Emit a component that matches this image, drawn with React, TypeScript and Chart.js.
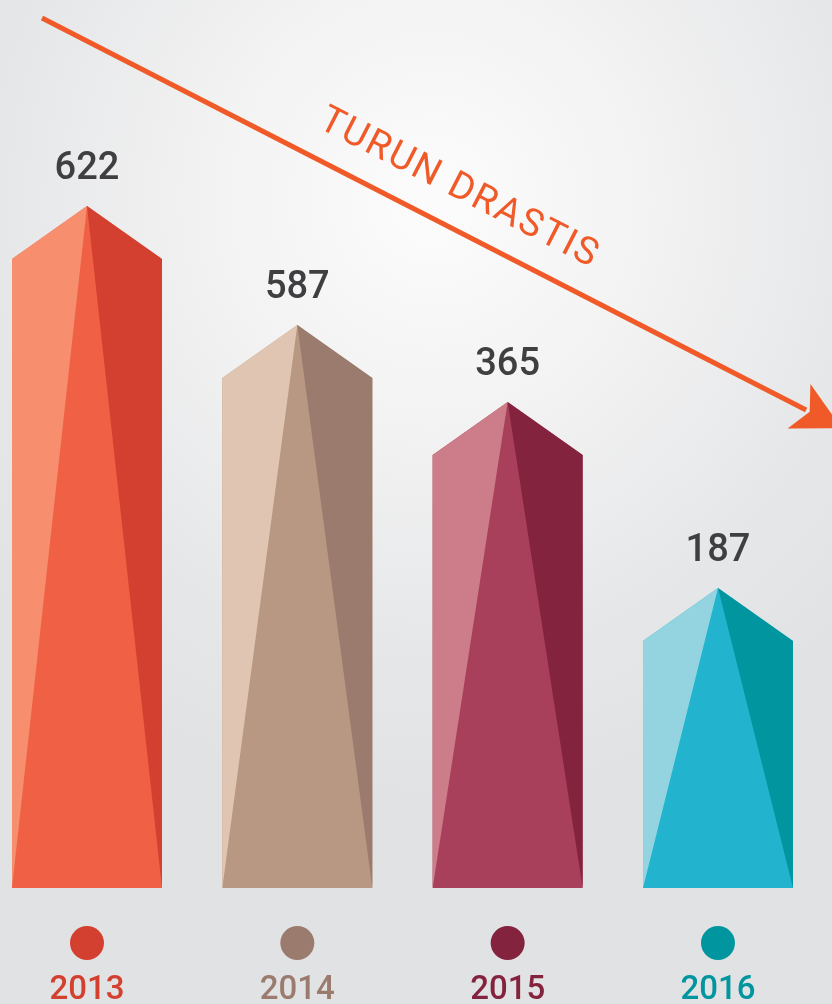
import { useEffect, useRef } from "react";
import { Chart, registerables } from "chart.js";

Chart.register(...registerables);

// ---- data ----
const years = ["2013", "2014", "2015", "2016"];
const values = [622, 587, 365, 187];
// pictorial bar heights (to the peak) as drawn in the infographic
const barHeights = [682, 563, 486, 300];
const lightColors = ["#F78E6E", "#E0C6B2", "#CD7D89", "#93D4E0"];
const midColors = ["#EF6045", "#B89882", "#A8405B", "#22B3CF"];
const darkColors = ["#D44030", "#9A7B6E", "#84233E", "#00959F"];
const trendLabel = "TURUN DRASTIS";

function poly(ctx: CanvasRenderingContext2D, pts: number[][], color: string) {
  ctx.beginPath();
  ctx.moveTo(pts[0][0], pts[0][1]);
  for (let k = 1; k < pts.length; k++) ctx.lineTo(pts[k][0], pts[k][1]);
  ctx.closePath();
  ctx.fillStyle = color;
  ctx.fill();
}

const prismPlugin = {
  id: "prism",
  afterDatasetsDraw(chart: any) {
    const ctx: CanvasRenderingContext2D = chart.ctx;
    const meta = chart.getDatasetMeta(0);
    const shoulder = 53;
    meta.data.forEach((el: any, i: number) => {
      const { x, y, base, width } = el.getProps(["x", "y", "base", "width"], true);
      const L = x - width / 2;
      const R = x + width / 2;
      const sh = y + shoulder;
      ctx.save();
      poly(ctx, [[x, y], [R, sh], [R, base], [L, base], [L, sh]], midColors[i]);
      poly(ctx, [[x, y], [L, sh], [L, base]], lightColors[i]);
      poly(ctx, [[x, y], [R, sh], [R, base]], darkColors[i]);

      ctx.textAlign = "center";
      ctx.textBaseline = "alphabetic";
      ctx.fillStyle = "#3F3F41";
      ctx.font = "500 38px Roboto";
      ctx.fillText(String(values[i]), x, y - 27);

      ctx.beginPath();
      ctx.arc(x, base + 55, 17, 0, Math.PI * 2);
      ctx.fillStyle = darkColors[i];
      ctx.fill();

      ctx.fillStyle = darkColors[i];
      ctx.font = "500 33px Roboto";
      ctx.fillText(years[i], x, base + 111);
      ctx.restore();
    });
  },
  afterDraw(chart: any) {
    const ctx: CanvasRenderingContext2D = chart.ctx;
    const orange = "#F05A28";
    const x0 = 42, y0 = 18;
    const ang = Math.atan(0.513);
    const c = Math.cos(ang), s = Math.sin(ang);
    const mx = 799, my = y0 + (799 - x0) * 0.513;
    ctx.save();
    ctx.strokeStyle = orange;
    ctx.lineWidth = 5;
    ctx.beginPath();
    ctx.moveTo(x0, y0);
    ctx.lineTo(mx + 8 * c, my + 8 * s);
    ctx.stroke();
    // arrow head
    const half = 25, len = 48, notch = 12;
    const tip = [mx + len * c, my + len * s];
    const w1 = [mx + half * s, my - half * c];
    const w2 = [mx - half * s, my + half * c];
    const nt = [mx + notch * c, my + notch * s];
    poly(ctx, [w1, tip, w2, nt], orange);

    ctx.translate(459, 189);
    ctx.rotate(ang);
    ctx.fillStyle = orange;
    ctx.font = "400 38px Roboto";
    (ctx as any).letterSpacing = "2px";
    ctx.textAlign = "center";
    ctx.textBaseline = "middle";
    ctx.fillText(trendLabel, 0, 0);
    ctx.restore();
  },
};

export default function App() {
  const ref = useRef<HTMLCanvasElement | null>(null);
  useEffect(() => {
    if (!ref.current) return;
    const chart = new Chart(ref.current, {
      type: "bar",
      data: {
        datasets: [
          {
            data: barHeights.map((h, i) => ({ x: i, y: h })),
            backgroundColor: "rgba(0,0,0,0)",
            borderWidth: 0,
            barThickness: 150,
          },
        ],
      },
      options: {
        responsive: false,
        animation: false,
        layout: { padding: { top: 88, bottom: 116, left: 0, right: 0 } },
        scales: {
          x: { type: "linear", min: -0.4136, max: 3.5421, display: false, offset: false },
          y: { min: 0, max: 800, display: false },
        },
        plugins: { legend: { display: false }, tooltip: { enabled: false } },
      },
      plugins: [prismPlugin],
    } as any);
    return () => chart.destroy();
  }, []);
  return (
    <div
      style={{
        position: "absolute",
        left: 0,
        top: 0,
        width: 832,
        height: 1004,
        overflow: "hidden",
        background:
          "radial-gradient(ellipse 70% 60% at 52% 20%, #fcfcfc 0%, #f3f3f3 35%, #e6e7e9 75%, #e1e2e4 100%)",
      }}
    >
      <canvas ref={ref} width={832} height={1004} style={{ display: "block" }} />
    </div>
  );
}
